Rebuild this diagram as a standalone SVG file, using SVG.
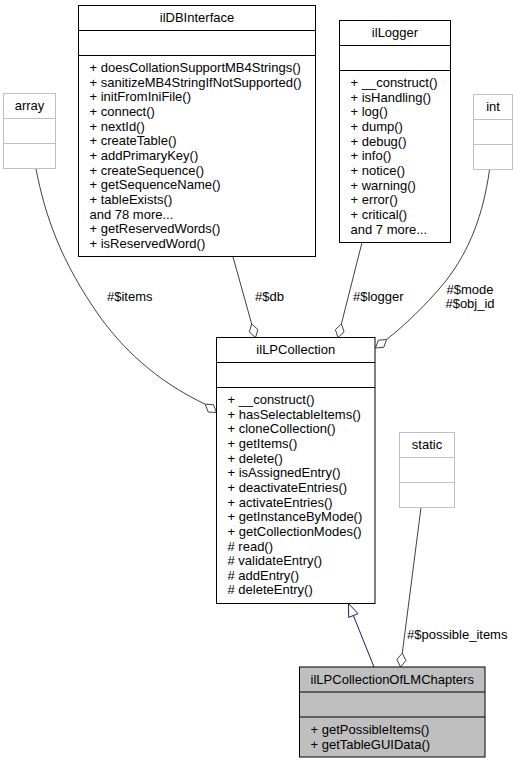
<svg xmlns="http://www.w3.org/2000/svg" width="518" height="764" viewBox="0 0 518 764">
<style>
text{font-family:"Liberation Sans",Arial,sans-serif;font-size:13px;fill:#000}
.c{text-anchor:middle}
.box{fill:#fff;stroke:#000;stroke-width:1}
.gbox{fill:#fff;stroke:#bfbfbf;stroke-width:1}
.hbox{fill:#bfbfbf;stroke:#000;stroke-width:1}
.sep{stroke:#000;stroke-width:1}
.gsep{stroke:#bfbfbf;stroke-width:1}
.agg{fill:none;stroke:#404040;stroke-width:1}
.dia{fill:#fff;stroke:#404040;stroke-width:1}
.inh{fill:none;stroke:#191970;stroke-width:1}
.tri{fill:#fff;stroke:#191970;stroke-width:1}
</style>
<rect width="518" height="764" fill="#fff"/>
<g id="connectors">
<path class="agg" d="M36,169 C45,215 60,260 100,317 C130,358 165,385 205.2,404.2"/>
<polygon class="dia" points="216.5,412.5 213.5,404.7 205.2,404.2 208.2,412"/>
<text x="107" y="301">#$items</text>
<path class="agg" d="M233,257 L251.7,324"/>
<polygon class="dia" points="255.5,337.5 258,329.6 251.7,324 249.3,332"/>
<text x="255" y="301">#$db</text>
<path class="agg" d="M362,242.5 L341.4,323.9"/>
<polygon class="dia" points="338,337.5 344.1,331.8 341.4,323.9 335.4,329.6"/>
<text x="353" y="301">#$logger</text>
<path class="agg" d="M489.5,170 C483,215 470,250 445,282 C425,306 405,325 386.6,339.5"/>
<polygon class="dia" points="375.5,348 383.8,347.3 386.6,339.5 378.3,340.2"/>
<text class="c" x="470" y="293.5">#$mode</text>
<text class="c" x="470" y="307.5">#$obj_id</text>
<path class="agg" d="M421,507.5 L402.3,653.1"/>
<polygon class="dia" points="400.5,667 405.9,660.6 402.3,653.1 396.9,659.5"/>
<text x="407" y="638.5">#$possible_items</text>
<path class="inh" d="M374,667 L353.4,615.6"/>
<polygon class="tri" points="348.5,603.5 358,613.7 348.7,617.4"/>
</g>
<g id="array">
<rect class="gbox" x="3.5" y="93.5" width="52" height="75"/>
<line class="gsep" x1="3.5" y1="118.5" x2="55.5" y2="118.5"/>
<line class="gsep" x1="3.5" y1="143.5" x2="55.5" y2="143.5"/>
<text class="c" x="29.5" y="110">array</text>
</g>
<g id="ilDBInterface">
<rect class="box" x="78.5" y="5.5" width="237" height="251"/>
<line class="sep" x1="78.5" y1="30.5" x2="315.5" y2="30.5"/>
<line class="sep" x1="78.5" y1="55.5" x2="315.5" y2="55.5"/>
<text class="c" x="197" y="22">ilDBInterface</text>
<text x="89.5" y="72">+ doesCollationSupportMB4Strings()</text>
<text x="89.5" y="86.7">+ sanitizeMB4StringIfNotSupported()</text>
<text x="89.5" y="101.3">+ initFromIniFile()</text>
<text x="89.5" y="116">+ connect()</text>
<text x="89.5" y="130.6">+ nextId()</text>
<text x="89.5" y="145.3">+ createTable()</text>
<text x="89.5" y="159.9">+ addPrimaryKey()</text>
<text x="89.5" y="174.6">+ createSequence()</text>
<text x="89.5" y="189.2">+ getSequenceName()</text>
<text x="89.5" y="203.9">+ tableExists()</text>
<text x="89.5" y="218.5">and 78 more...</text>
<text x="89.5" y="233.2">+ getReservedWords()</text>
<text x="89.5" y="247.8">+ isReservedWord()</text>
</g>
<g id="ilLogger">
<rect class="box" x="339.5" y="20.5" width="111" height="222"/>
<line class="sep" x1="339.5" y1="45.5" x2="450.5" y2="45.5"/>
<line class="sep" x1="339.5" y1="70.5" x2="450.5" y2="70.5"/>
<text class="c" x="395" y="37">ilLogger</text>
<text x="350.5" y="87">+ __construct()</text>
<text x="350.5" y="101.7">+ isHandling()</text>
<text x="350.5" y="116.3">+ log()</text>
<text x="350.5" y="131">+ dump()</text>
<text x="350.5" y="145.6">+ debug()</text>
<text x="350.5" y="160.3">+ info()</text>
<text x="350.5" y="174.9">+ notice()</text>
<text x="350.5" y="189.6">+ warning()</text>
<text x="350.5" y="204.2">+ error()</text>
<text x="350.5" y="218.9">+ critical()</text>
<text x="350.5" y="233.5">and 7 more...</text>
</g>
<g id="int">
<rect class="gbox" x="473.5" y="94.5" width="39" height="75"/>
<line class="gsep" x1="473.5" y1="119.5" x2="512.5" y2="119.5"/>
<line class="gsep" x1="473.5" y1="144.5" x2="512.5" y2="144.5"/>
<text class="c" x="493" y="111">int</text>
</g>
<g id="ilLPCollection">
<rect class="box" x="216.5" y="337.5" width="158.5" height="266"/>
<line class="sep" x1="216.5" y1="362.5" x2="375" y2="362.5"/>
<line class="sep" x1="216.5" y1="387.5" x2="375" y2="387.5"/>
<text class="c" x="295.75" y="354">ilLPCollection</text>
<text x="227.5" y="404">+ __construct()</text>
<text x="227.5" y="418.6">+ hasSelectableItems()</text>
<text x="227.5" y="433.3">+ cloneCollection()</text>
<text x="227.5" y="447.9">+ getItems()</text>
<text x="227.5" y="462.6">+ delete()</text>
<text x="227.5" y="477.2">+ isAssignedEntry()</text>
<text x="227.5" y="491.9">+ deactivateEntries()</text>
<text x="227.5" y="506.5">+ activateEntries()</text>
<text x="227.5" y="521.2">+ getInstanceByMode()</text>
<text x="227.5" y="535.8">+ getCollectionModes()</text>
<text x="227.5" y="550.5"># read()</text>
<text x="227.5" y="565.1"># validateEntry()</text>
<text x="227.5" y="579.8"># addEntry()</text>
<text x="227.5" y="594.4"># deleteEntry()</text>
</g>
<g id="static">
<rect class="gbox" x="399.5" y="432.5" width="55" height="75"/>
<line class="gsep" x1="399.5" y1="457.5" x2="454.5" y2="457.5"/>
<line class="gsep" x1="399.5" y1="482.5" x2="454.5" y2="482.5"/>
<text class="c" x="427" y="449">static</text>
</g>
<g id="ilLPCollectionOfLMChapters">
<rect class="hbox" x="299.5" y="667" width="185.5" height="90"/>
<line class="sep" x1="299.5" y1="692" x2="485" y2="692"/>
<line class="sep" x1="299.5" y1="717" x2="485" y2="717"/>
<text class="c" x="392.25" y="683.5">ilLPCollectionOfLMChapters</text>
<text x="310.5" y="734">+ getPossibleItems()</text>
<text x="310.5" y="748.5">+ getTableGUIData()</text>
</g>
</svg>
